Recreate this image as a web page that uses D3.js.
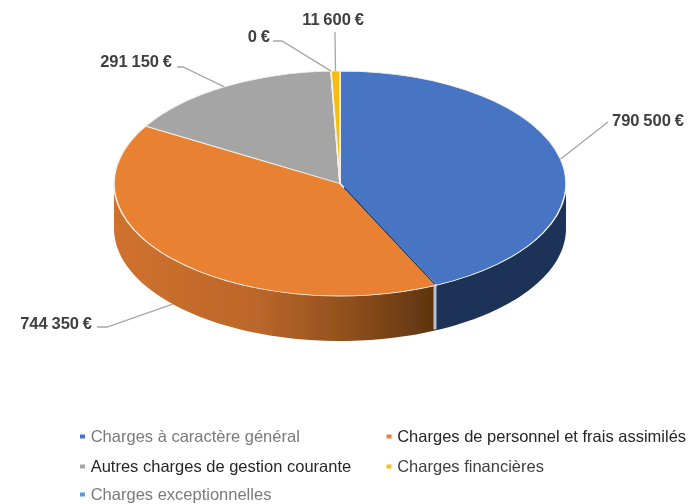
<!DOCTYPE html>
<html><head><meta charset="utf-8">
<script src="https://cdn.jsdelivr.net/npm/d3@7/dist/d3.min.js"></script>
<style>html,body{margin:0;padding:0;background:#fff}svg{display:block}text{font-family:"Liberation Sans",Arial,sans-serif}</style>
</head><body><svg id="c" width="690" height="504"></svg>
<script>
const categories=["Charges à caractère général","Charges de personnel et frais assimilés","Autres charges de gestion courante","Charges financières","Charges exceptionnelles"];
const values=[790500,744350,291150,0,11600];
const valueLabels=["790 500 €","744 350 €","291 150 €","0 €","11 600 €"];
const legendColors=["#4472c4","#ed7d31","#a5a5a5","#ffc000","#5b9bd5"];
const legendTextColors=["#7a7a7a","#262626","#262626","#404040","#7a7a7a"];
const sliceColors=["#4674c3","#e98132","#a5a5a5","#ffc000","#f5bd10"];

const cx=340,cy=183.5,rx=226,ry=112.5,depth=45;
const svg=d3.select("#c");
const defs=svg.append("defs");
defs.append("filter").attr("id","soft").attr("x","-5%").attr("y","-5%").attr("width","110%").attr("height","110%")
  .append("feGaussianBlur").attr("stdDeviation",0.6);
const g=svg.append("g").attr("filter","url(#soft)");

const pie=d3.pie().value(d=>d).sort(null);
const arcs=pie(values);
const xAt=a=>cx+rx*Math.sin(a), yAt=a=>cy-ry*Math.cos(a);

const grad=defs.append("linearGradient").attr("id","orangeWall").attr("gradientUnits","userSpaceOnUse")
  .attr("x1",cx-rx).attr("x2",xAt(arcs[0].endAngle)).attr("y1",0).attr("y2",0);
grad.append("stop").attr("offset","0").attr("stop-color","#d0722e");
grad.append("stop").attr("offset",".45").attr("stop-color","#bb662a");
grad.append("stop").attr("offset",".75").attr("stop-color","#8c4d1c");
grad.append("stop").attr("offset","1").attr("stop-color","#5c340f");

const wallFill=["#1b3157","url(#orangeWall)"];
function wallPath(a0,a1){
  const s=d3.range(0,41).map(i=>a0+(a1-a0)*i/40);
  const upper=s.map(a=>[xAt(a),yAt(a)]);
  const lower=s.slice().reverse().map(a=>[xAt(a),yAt(a)+depth]);
  return d3.line()(upper.concat(lower))+"Z";
}
const lim=[[Math.PI/2,arcs[0].endAngle],[arcs[1].startAngle,Math.PI*1.5]];
g.selectAll("path.wall").data(lim).join("path").attr("class","wall")
  .attr("d",d=>wallPath(d[0],d[1])).attr("fill",(d,i)=>wallFill[i]);

const seam=arcs[0].endAngle;
g.append("line").attr("x1",xAt(seam)-1).attr("x2",xAt(seam)-1).attr("y1",yAt(seam)).attr("y2",yAt(seam)+depth-1)
  .attr("stroke","#b9c3d2").attr("stroke-width",3);

const arcGen=d3.arc().innerRadius(0).outerRadius(rx);
const topFace=g.append("g").attr("transform",`translate(${cx},${cy}) scale(1,${ry/rx})`);
topFace.selectAll("path").data(arcs).join("path")
  .attr("d",arcGen).attr("fill",(d,i)=>sliceColors[i])
  .attr("stroke","#f4f1ea").attr("stroke-width",1.6).attr("stroke-linejoin","round");

g.append("line").attr("x1",cx+4).attr("y1",cy+4).attr("x2",xAt(seam)-1).attr("y2",yAt(seam)-1)
  .attr("stroke","#1b3157").attr("stroke-width",1.3);

const mid=d=>(d.startAngle+d.endAngle)/2;
const labelOff=[
 {lx:612,ly:120,anchor:"start",elbow:[[608,122]]},
 {lx:92,ly:323,anchor:"end",elbow:[[107,327],[97,327]]},
 {lx:172,ly:61,anchor:"end",elbow:[[183,67],[177,67]]},
 {lx:270,ly:36,anchor:"end",elbow:[[282,41],[273,41]]},
 {lx:333,ly:19,anchor:"middle",elbow:[[335,32]]}
];
arcs.forEach((d,i)=>{
  const a=mid(d);
  const p=[xAt(a),yAt(a)+(i===1?depth:0)];
  const o=labelOff[i];
  g.append("path").attr("d",d3.line()([p,...o.elbow])).attr("fill","none").attr("stroke","#a6a6a6").attr("stroke-width",1.3);
  g.append("text").attr("x",o.lx).attr("y",o.ly+5.5).attr("text-anchor",o.anchor)
   .attr("font-size",16.5).attr("font-weight","bold").attr("word-spacing",-0.8).attr("fill","#404040").text(valueLabels[i]);
});

const legendX=[79,385.5], legendY=[436.5,466.5,494.5];
const cell=[[0,0],[1,0],[0,1],[1,1],[0,2]];
categories.forEach((c,i)=>{
  const x=legendX[cell[i][0]], y=legendY[cell[i][1]];
  g.append("rect").attr("x",x+1).attr("y",y-2).attr("width",5).attr("height",4).attr("fill",legendColors[i]);
  g.append("text").attr("x",x+11.7).attr("y",y+5.2).attr("font-size",16.5).attr("fill",legendTextColors[i]).text(c);
});
</script></body></html>
